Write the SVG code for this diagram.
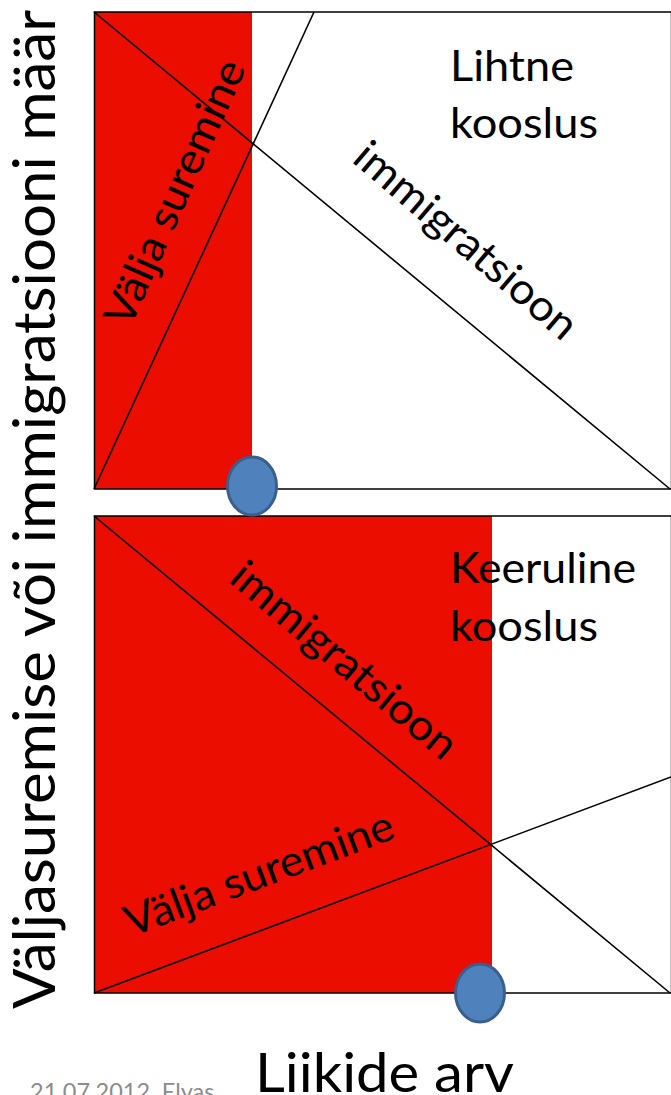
<svg xmlns="http://www.w3.org/2000/svg" width="671" height="1095" viewBox="0 0 671 1095">
<style>
.red{fill:#EB0D00}
.frame{fill:none;stroke:#000;stroke-width:1.5}
.ln{stroke:#000;stroke-width:1.6;fill:none}
.lbl{font-family:Lato,"Open Sans",sans-serif;fill:#000}
.dot{fill:#4F81BD;stroke:#3A5F8B;stroke-width:3}
</style>
<rect width="671" height="1095" fill="#fff"/>
<g id="panel-top">
<rect class="red" x="94" y="12" width="158" height="477"/>
<rect class="frame" x="94.5" y="12" width="577" height="477"/>
</g>
<g id="panel-bottom">
<rect class="red" x="94" y="516" width="398" height="477"/>
<rect class="frame" x="94.5" y="516" width="577" height="477"/>
</g>
<g id="connectors">
<line class="ln" x1="94" y1="12" x2="670" y2="489"/>
<line class="ln" x1="94" y1="489" x2="314" y2="12"/>
<line class="ln" x1="94" y1="516" x2="670" y2="993"/>
<line class="ln" x1="94" y1="993" x2="671" y2="777"/>
</g>
<g id="label-top-extinction"><text class="lbl" font-size="43" transform="translate(130,329) rotate(-66)" textLength="286" lengthAdjust="spacingAndGlyphs">Välja suremine</text></g>
<g id="label-top-immigration"><text class="lbl" font-size="43" transform="translate(350.5,161) rotate(40.5)" textLength="279" lengthAdjust="spacingAndGlyphs">immigratsioon</text></g>
<g id="label-bottom-immigration"><text class="lbl" font-size="43" transform="translate(227.3,581) rotate(40)" textLength="281" lengthAdjust="spacingAndGlyphs">immigratsioon</text></g>
<g id="label-bottom-extinction"><text class="lbl" font-size="43" transform="translate(131,937) rotate(-20.5)" textLength="284" lengthAdjust="spacingAndGlyphs">Välja suremine</text></g>
<g id="label-simple">
<text class="lbl" font-size="43" x="450" y="80.7" textLength="124" lengthAdjust="spacingAndGlyphs">Lihtne</text>
<text class="lbl" font-size="43" x="450" y="138.3" textLength="148" lengthAdjust="spacingAndGlyphs">kooslus</text>
</g>
<g id="label-complex">
<text class="lbl" font-size="43" x="450" y="583.3" textLength="186" lengthAdjust="spacingAndGlyphs">Keeruline</text>
<text class="lbl" font-size="43" x="450" y="641" textLength="148" lengthAdjust="spacingAndGlyphs">kooslus</text>
</g>
<g id="circle-top"><ellipse class="dot" cx="252" cy="486" rx="24.5" ry="29"/></g>
<g id="circle-bottom"><ellipse class="dot" cx="480" cy="993" rx="24.5" ry="29"/></g>
<g id="axis-y"><text class="lbl" font-size="59" transform="translate(55,1009) rotate(-90)" textLength="999" lengthAdjust="spacingAndGlyphs">Väljasuremise või immigratsiooni määr</text></g>
<g id="footer"><text font-family="Lato,'Open Sans',sans-serif" font-size="23.5" fill="#8C8C8C" x="30" y="1100">21.07.2012. Elyas</text></g>
<g id="axis-x">
<rect x="216" y="1045" width="320" height="50" fill="#fff"/>
<text class="lbl" font-size="55" x="255" y="1092" textLength="259" lengthAdjust="spacingAndGlyphs">Liikide arv</text>
</g>
</svg>
